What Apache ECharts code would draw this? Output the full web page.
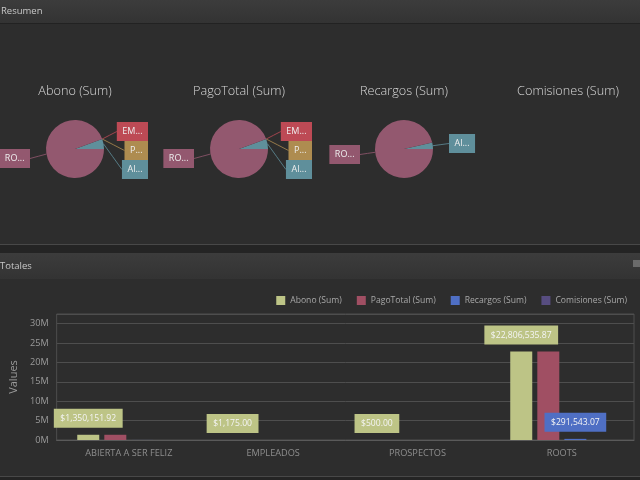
<!DOCTYPE html>
<html><head><meta charset="utf-8">
<style>html,body{margin:0;padding:0;background:#2d2d2d}#c{width:640px;height:480px}</style>
<script src="https://cdn.jsdelivr.net/npm/echarts@6/dist/echarts.min.js"></script>
</head><body><div id="c"></div>
<script>
const categories = ['ABIERTA A SER FELIZ','EMPLEADOS','PROSPECTOS','ROOTS'];
const abono = [1350151.92, 1175, 500, 22806535.87];
const pagoTotal = [1350151.92, 1175, 500, 22806535.87];
const recargos = [10900, 0, 0, 291543.07];
const comisiones = [0, 0, 0, 0];
const seriesNames = ['Abono (Sum)','PagoTotal (Sum)','Recargos (Sum)','Comisiones (Sum)'];
const barColors = ['#bdc486','#a04f63','#4f6fc4','#574d80'];
const pieColors = ['#5f8f9b','#bd4a55','#ae8c50','#93586f'];
const pieLabels = ['Al...','EM...','P...','RO...'];
const pieOrder = [0,2,1,3];
const font = '"Open Sans"';
const fmt = v => '$' + v.toLocaleString('en-US',{minimumFractionDigits:2,maximumFractionDigits:2});

// label box placement relative to each pie centre: [edge x, top y, text side]
const fullSpots = {0:[73,11,'right'],1:[73,-27,'right'],2:[73,-8,'right'],3:[-45,0,'right']};
const smallSpots = {0:[45,-15,'left'],3:[-44,-4,'right']};

function pie(values, name, cx, spots){
  const idx = pieOrder.filter(i=>values[i]>0);
  const data = idx.map(i=>({
    name:categories[i], value:values[i],
    itemStyle:{color:pieColors[i]},
    label:{backgroundColor:pieColors[i]},
    labelLine:{lineStyle:{color:pieColors[i]}}
  }));
  return {type:'pie',name:'Pie '+name,center:[cx,149],radius:[0,29],clockwise:false,startAngle:0,
    emptyCircleStyle:{opacity:0},silent:true,animation:false,avoidLabelOverlap:false,
    label:{show:true,formatter:p=>pieLabels[categories.indexOf(p.name)],color:'#eee',fontFamily:font,fontSize:9,
      padding:[5,5.5],lineHeight:9},
    labelLine:{show:true,length:10,length2:8,lineStyle:{width:1,opacity:0.8}},
    labelLayout:params=>{
      const s = spots[idx[params.dataIndex]];
      const x = cx+s[0], y = 149+s[1];
      const w = params.labelRect.width;
      const endX = (s[0]>0 && s[2]==='right') ? x-w : x;
      const p0 = params.labelLinePoints ? params.labelLinePoints[0] : [x,y];
      const end = [endX, y+9.5];
      return {x, y, align:s[2], verticalAlign:'top',
        labelLinePoints:[p0,[(p0[0]+end[0])/2,(p0[1]+end[1])/2],end]};
    },
    data};
}
function bar(values,i,labelled){
  return {type:'bar',name:seriesNames[i],barWidth:22,barGap:'23%',animation:false,
    itemStyle:{color:barColors[i]},
    data:values.map((v,k)=>({value:v,label:{show:labelled(v,k)}})),
    label:{position:'top',distance:7,formatter:p=>fmt(p.value),color:'#f4f4f4',fontFamily:font,fontSize:8.6,
      backgroundColor:barColors[i],padding:[5,6.5],lineHeight:9}};
}
const headerFill = {type:'linear',x:0,y:0,x2:0,y2:1,colorStops:[{offset:0,color:'#3c3c3c'},{offset:1,color:'#333333'}]};
const titles = [[75,'Abono (Sum)'],[239,'PagoTotal (Sum)'],[404,'Recargos (Sum)'],[568,'Comisiones (Sum)']];
const chart = echarts.init(document.getElementById('c'),null,{renderer:'canvas'});
chart.setOption({
  backgroundColor:'#2d2d2d',animation:false,
  graphic:[
    {type:'rect',z:-1,shape:{x:0,y:0,width:640,height:23},style:{fill:headerFill}},
    {type:'rect',z:-1,shape:{x:0,y:23,width:640,height:1},style:{fill:'#222'}},
    {type:'text',x:1,y:6,style:{text:'Resumen',fill:'#c8c8c8',font:'9.5px '+font}},
    {type:'rect',z:-1,shape:{x:0,y:244,width:640,height:1},style:{fill:'#484848'}},
    {type:'rect',z:-1,shape:{x:0,y:245,width:640,height:8},style:{fill:'#242424'}},
    {type:'rect',z:-1,shape:{x:0,y:253,width:640,height:26},style:{fill:headerFill}},
    {type:'text',x:0,y:261,style:{text:'Totales',fill:'#c8c8c8',font:'9.5px '+font}},
    {type:'rect',z:-1,shape:{x:633,y:260,width:7,height:7},style:{fill:'#6a6a6a'}},
    {type:'rect',z:-1,shape:{x:0,y:476,width:640,height:1},style:{fill:'#484848'}},
    {type:'rect',z:-1,shape:{x:0,y:477,width:640,height:3},style:{fill:'#242424'}},
    ...titles.map(([x,t])=>({type:'text',x,y:91,style:{text:t,fill:'#d8d8d8',font:'300 12.7px '+font,align:'center',verticalAlign:'middle'}}))
  ],
  legend:{right:8,top:291,itemWidth:9,itemHeight:9,itemGap:15,icon:'rect',
    textStyle:{color:'#a8a8a8',fontFamily:font,fontSize:8.6},
    data:seriesNames.map((n,i)=>({name:n,itemStyle:{color:barColors[i]}}))},
  grid:{left:55,right:6,top:314,bottom:40,show:true,borderColor:'#4e4e4e',borderWidth:1,containLabel:false},
  xAxis:{type:'category',data:categories,axisLine:{lineStyle:{color:'#5a5a5a'}},axisTick:{show:false},
    axisLabel:{color:'#8e8e8e',fontFamily:font,fontSize:9.2,margin:9}},
  yAxis:{type:'value',min:0,max:32500000,interval:5000000,name:'Values',nameLocation:'middle',nameGap:29,nameRotate:90,
    nameTextStyle:{color:'#9a9a9a',fontFamily:font,fontSize:11},
    axisLabel:{color:'#9a9a9a',fontFamily:font,fontSize:9.2,margin:8,showMaxLabel:false,formatter:v=>(v/1000000)+'M'},
    axisLine:{show:false},axisTick:{show:false},splitLine:{lineStyle:{color:'#4e4e4e',width:1}}},
  series:[
    pie(abono,seriesNames[0],75,fullSpots),
    pie(pagoTotal,seriesNames[1],239,fullSpots),
    pie(recargos,seriesNames[2],404,smallSpots),
    pie(comisiones,seriesNames[3],568,smallSpots),
    bar(abono,0,()=>true),
    bar(pagoTotal,1,()=>false),
    bar(recargos,2,v=>v>100000),
    bar(comisiones,3,()=>false)
  ]
});
</script></body></html>
